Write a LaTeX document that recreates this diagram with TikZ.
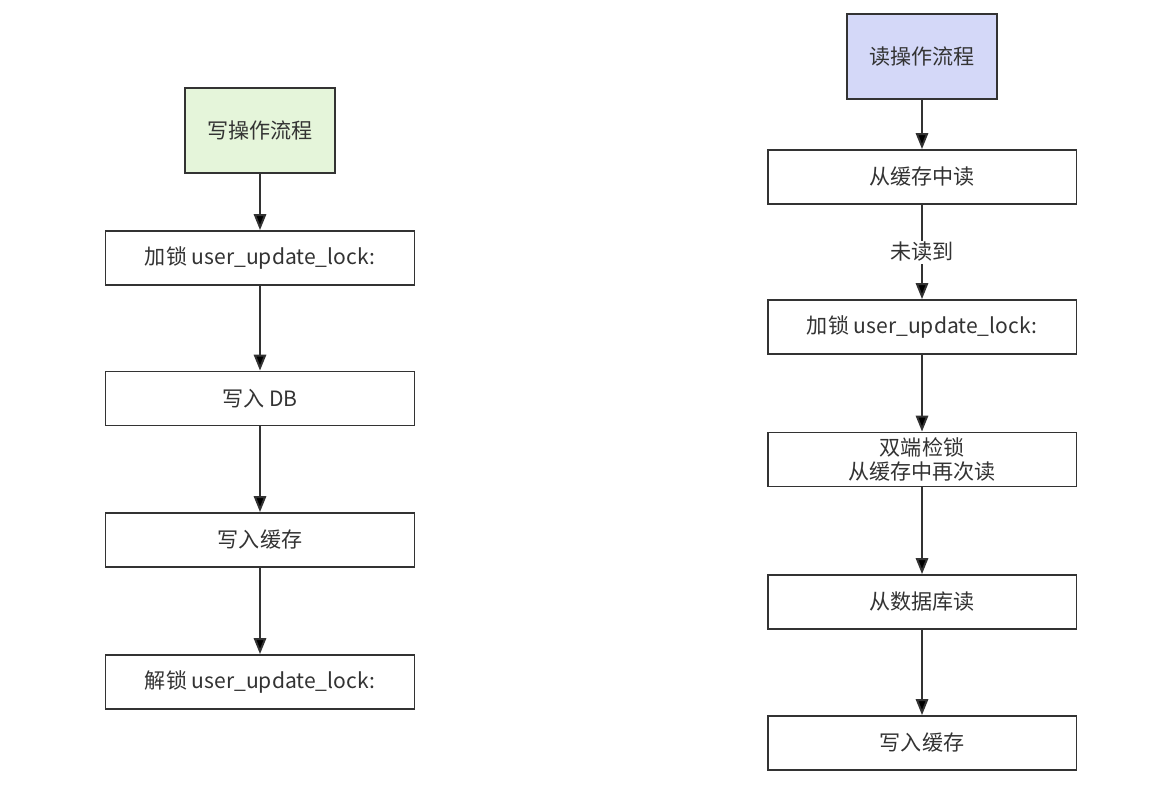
\documentclass[tikz,border=0pt]{standalone}
\usepackage{fontspec}
\setmainfont{Noto Sans CJK SC}
\usepackage{tikz}
\usetikzlibrary{arrows.meta}
\tikzset{>={Triangle[length=9pt,width=7pt]}}
\definecolor{linegray}{HTML}{333333}
\definecolor{textgray}{HTML}{333333}
\definecolor{writegreen}{HTML}{E5F5DA}
\definecolor{readblue}{HTML}{D4D8F8}
\tikzset{
    stepbox/.style={draw=linegray,line width=1.1pt,fill=white,minimum width=6.18cm,
        minimum height=1.08cm,align=center,text=textgray,inner sep=2pt,
        font=\fontsize{12}{14}\selectfont},
    titlebox/.style={stepbox,minimum width=3.0cm,minimum height=1.7cm},
    flow/.style={->,draw=linegray,line width=1.1pt},
    edgelabel/.style={fill=white,text=textgray,inner sep=1pt,font=\fontsize{12}{14}\selectfont}
}
\begin{document}
\begin{tikzpicture}[x=0.02cm,y=-0.02cm]
    \useasboundingbox (0,0) rectangle (1162,802);
    % write flow
    \node[titlebox,fill=writegreen] at (260,130.5) (w0) {写操作流程};
    \node[stepbox] at (260,258) (w1) {加锁 user\_update\_lock:};
    \node[stepbox] at (260,398.5) (w2) {写入 DB};
    \node[stepbox] at (260,540) (w3) {写入缓存};
    \node[stepbox] at (260,682) (w4) {解锁 user\_update\_lock:};
    % read flow
    \node[titlebox,fill=readblue] at (922,56.5) (r0) {读操作流程};
    \node[stepbox] at (922,177) (r1) {从缓存中读};
    \node[stepbox] at (922,327) (r2) {加锁 user\_update\_lock:};
    \node[stepbox] at (922,459.5) (r3) {双端检锁\\从缓存中再次读};
    \node[stepbox] at (922,602) (r4) {从数据库读};
    \node[stepbox] at (922,743) (r5) {写入缓存};
    \path[flow]
    (w0) edge (w1)
    (w1) edge (w2)
    (w2) edge (w3)
    (w3) edge (w4)
    (r0) edge (r1)
    (r1) edge node[edgelabel,pos=0.5] {未读到} (r2)
    (r2) edge (r3)
    (r3) edge (r4)
    (r4) edge (r5)
    ;
\end{tikzpicture}
\end{document}
